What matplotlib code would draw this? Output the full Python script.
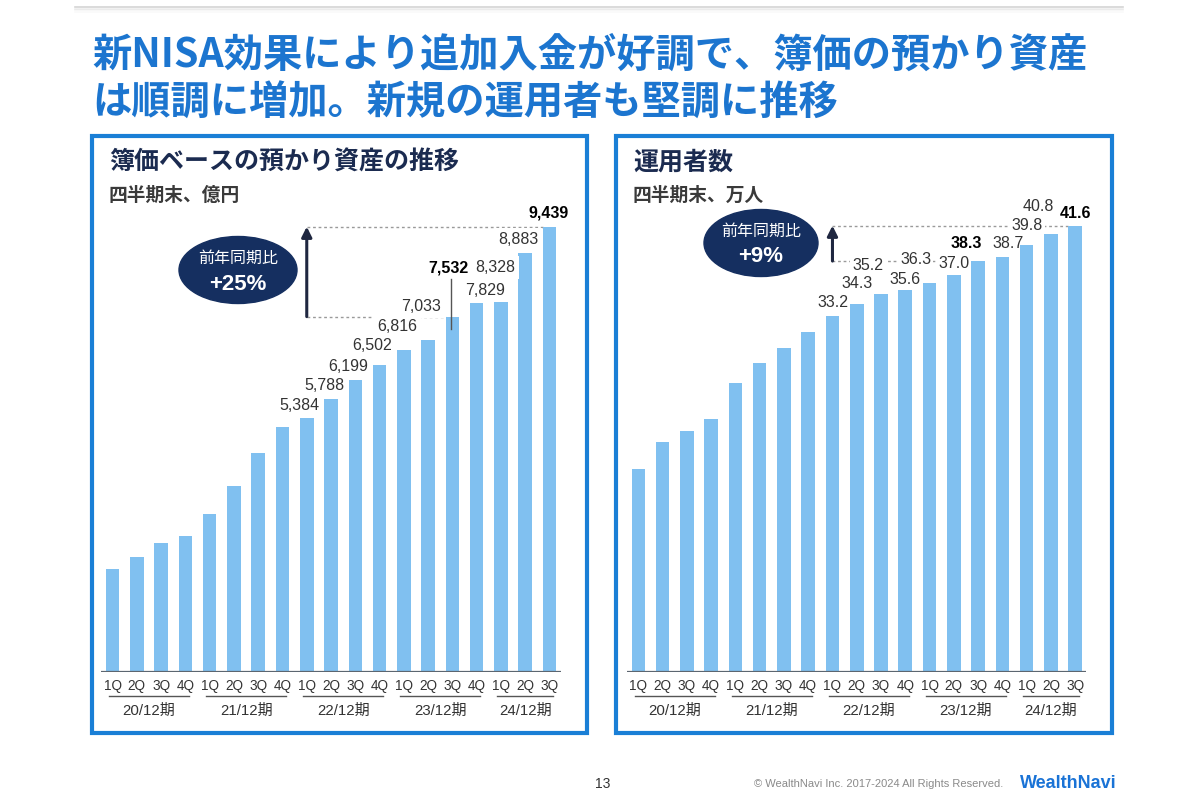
import matplotlib
matplotlib.use("Agg")
import matplotlib.pyplot as plt
from matplotlib import patches, transforms

plt.rcParams["font.family"] = ["Liberation Sans", "Noto Sans CJK JP"]

# データ
quarters = ["1Q", "2Q", "3Q", "4Q"] * 4 + ["1Q", "2Q", "3Q"]
periods = ["20/12期", "21/12期", "22/12期", "23/12期", "24/12期"]
period_sizes = [4, 4, 4, 4, 3]
assets = [2190, 2429, 2726, 2889, 3340, 3934, 4642, 5184, 5384, 5788,
          6199, 6502, 6816, 7033, 7532, 7829, 8328, 8883, 9439]
users = [18.9, 21.4, 22.5, 23.6, 26.9, 28.8, 30.2, 31.7, 33.2, 34.3,
         35.2, 35.6, 36.3, 37.0, 38.3, 38.7, 39.8, 40.8, 41.6]
first_label = 8
bold_labels = [14, 18]
yoy_from, yoy_to = 14, 18
assets_yoy = "+25%"
users_yoy = "+9%"

W, H = 1200, 800
BAR = "#80c0f0"
NAVY = "#1b2b50"
BLUE = "#1a7fd6"


def fx(x):
    return x / W


def fy(y):
    return 1 - y / H


def box(x0, y0, x1, y1):
    return [fx(x0), fy(y1), (x1 - x0) / W, (y1 - y0) / H]


fig = plt.figure(figsize=(12, 8), dpi=100)
fig.patch.set_facecolor("white")

# 上部の細い線
for k, a in enumerate([0.9, 0.35, 0.2, 0.1]):
    fig.add_artist(plt.Line2D([fx(75), fx(1123)], [fy(7 + k * 1.5)] * 2,
                              color="#d0d0d0", alpha=a, lw=1.2))

# タイトル
fig.text(fx(92), fy(55), "新NISA効果により追加入金が好調で、簿価の預かり資産",
         fontsize=28.3, fontweight="bold", color="#1c75cf", va="center",
         family=["Noto Sans CJK JP"])
fig.text(fx(92), fy(103), "は順調に増加。新規の運用者も堅調に推移",
         fontsize=28.3, fontweight="bold", color="#1c75cf", va="center",
         family=["Noto Sans CJK JP"])


def draw_panel(panel, axbox, px_scale, values, title, unit, fmt, offsets,
               yoy_text, ell, leader=False, cover_pad=0.15, label_z=6):
    px0, py0, px1, py1 = panel
    fig.add_artist(patches.Rectangle((fx(px0), fy(py1)), (px1 - px0) / W,
                                     (py1 - py0) / H, transform=fig.transFigure,
                                     fill=False, ec=BLUE, lw=3))
    fig.text(fx(px0 + 17), fy(163), title, fontsize=18, fontweight="bold",
             color=NAVY, va="center", family=["Noto Sans CJK JP"])
    fig.text(fx(px0 + 17), fy(195), unit, fontsize=13.5, fontweight="bold",
             color="#3a3a3a", va="center", family=["Noto Sans CJK JP"])

    ax = fig.add_axes(box(*axbox))
    ax.axis("off")
    n = len(values)
    step = 24.27
    x_lo = -11.6 / step
    ax.set_xlim(x_lo, x_lo + (axbox[2] - axbox[0]) / step)
    ax.set_ylim(0, (axbox[3] - axbox[1]) / px_scale)
    xs = list(range(n))
    ax.bar(xs, values, width=0.56, color=BAR, zorder=2)
    ax.axhline(0, color="#5c6670", lw=1.6, zorder=3)

    # 値ラベル
    for j, i in enumerate(range(first_label, n)):
        dx, dy = offsets[j]
        ax.annotate(fmt(values[i]), xy=(i, values[i]), xytext=(dx, dy),
                    textcoords="offset pixels", ha="center", va="center",
                    fontsize=11.5, color="#000000" if i in bold_labels else "#333333",
                    fontweight="bold" if i in bold_labels else "normal",
                    bbox=dict(boxstyle=f"square,pad={cover_pad}", fc="white", ec="none"),
                    zorder=label_z, annotation_clip=False)

    if leader:
        i = yoy_from
        ax.plot([i - 0.05, i - 0.05],
                [values[i] - 12 / px_scale, values[i] + 38 / px_scale],
                color="#555555", lw=1, zorder=7)

    # 前年同期比の矢印
    ax.plot([first_label, yoy_from - 0.28], [values[yoy_from]] * 2,
            ls=(0, (2, 2)), color="#9a9a9a", lw=1, zorder=1)
    ax.plot([first_label, yoy_to - 0.28], [values[yoy_to]] * 2,
            ls=(0, (2, 2)), color="#9a9a9a", lw=1, zorder=1)
    ax.annotate("", xy=(first_label, values[yoy_to]),
                xytext=(first_label, values[yoy_from]),
                arrowprops=dict(arrowstyle="-|>", color="#1f2740", lw=2.2,
                                mutation_scale=15, shrinkA=0, shrinkB=0),
                zorder=8)

    cx, cy, ew, eh = ell
    fig.add_artist(patches.Ellipse((fx(cx), fy(cy)), ew / W, eh / H,
                                   transform=fig.transFigure, color="#152f60"))
    fig.text(fx(cx), fy(cy - 12), "前年同期比", fontsize=11.5, color="white",
             ha="center", va="center")
    fig.text(fx(cx), fy(cy + 14), yoy_text, fontsize=16, fontweight="bold",
             color="white", ha="center", va="center")

    # 横軸ラベル
    tr = transforms.blended_transform_factory(ax.transData, fig.transFigure)
    for i, q in enumerate(quarters):
        ax.text(i, fy(686), q, transform=tr, ha="center", va="center",
                fontsize=9.8, color="#333333", clip_on=False)
    start = 0
    for p, size in zip(periods, period_sizes):
        end = start + size - 1
        ax.plot([start - 0.15, end + 0.15], [fy(696)] * 2, transform=tr,
                color="#555555", lw=1, clip_on=False)
        ax.text((start + end) / 2, fy(711), p, transform=tr, ha="center",
                va="center", fontsize=10.8, color="#333333", clip_on=False)
        start += size
    return ax


left_offsets = [(-7, 12), (-7, 13), (-7, 13), (-7, 20), (-7, 24), (-7, 34),
                (-4, 49), (8, 12), (-6, 12), (-7, 13), (-1, 14)]
right_offsets = [(0, 13), (0, 20), (-13, 29), (0, 11), (-14, 23), (0, 11),
                 (-12, 18), (6, 13), (0, 19), (-13, 28), (0, 12)]

draw_panel((92, 136, 587, 733), (101, 200, 561, 672), 0.04718, assets,
           "簿価ベースの預かり資産の推移", "四半期末、億円",
           lambda v: f"{v:,}", left_offsets, assets_yoy,
           (238, 270, 118, 67), leader=True, cover_pad=0.25, label_z=6)
draw_panel((616, 136, 1112, 733), (626.7, 200, 1086, 672), 10.73, users,
           "運用者数", "四半期末、万人",
           lambda v: f"{v:.1f}", right_offsets, users_yoy,
           (761, 243, 114, 67), cover_pad=0.15, label_z=1.5)

# フッター
fig.text(fx(603), fy(784), "13", fontsize=10, color="#333333",
         ha="center", va="center")
fig.text(fx(1003), fy(784), "© WealthNavi Inc. 2017-2024 All Rights Reserved.",
         fontsize=8, color="#8a8a8a", ha="right", va="center")
fig.text(fx(1117), fy(783), "WealthNavi", fontsize=13, fontweight="bold",
         color="#1a73d6", ha="right", va="center")

fig.savefig("out.png", dpi=100)
